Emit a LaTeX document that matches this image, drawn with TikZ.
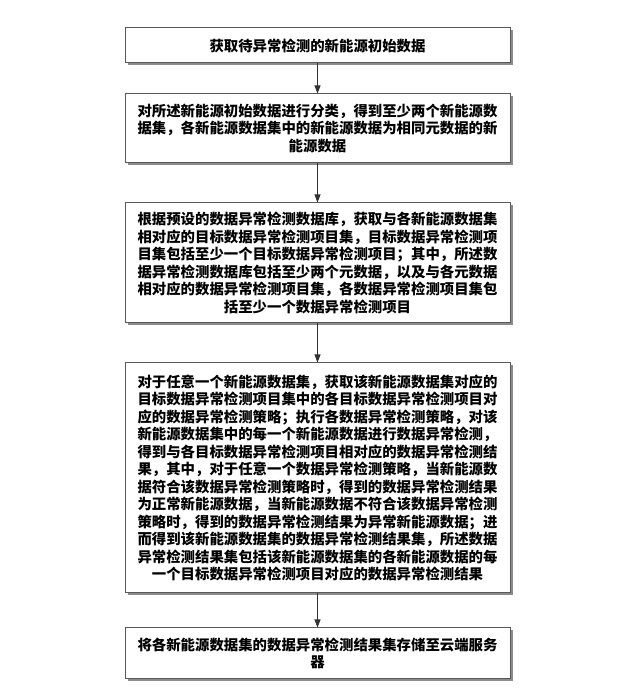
\documentclass[tikz,border=0pt]{standalone}
\usepackage{fontspec}
\newfontfamily\cjk{Noto Sans CJK SC}
\usetikzlibrary{arrows.meta,shadows}
\begin{document}
\begin{tikzpicture}[x=1pt,y=1pt,
  stepbox/.style={draw=black!65, line width=1pt, fill=white,
    drop shadow={shadow xshift=2.5pt, shadow yshift=-2.5pt, fill=black!45, opacity=1},
    minimum width=385pt, inner sep=0pt, align=center,
    font=\cjk\bfseries\fontsize{14.4}{17.5}\selectfont},
  flow/.style={draw=black!80, line width=1pt, -{Triangle[length=8pt,width=6pt]}}]
\useasboundingbox (0,0) rectangle (641,692);
\fill[white] (0,0) rectangle (641,692);
\node[stepbox, minimum height=35pt] (b1) at (317.5,{692-45.5}) {获取待异常检测的新能源初始数据};
\node[stepbox, minimum height=69pt] (b2) at (317.5,{692-128.5}) {对所述新能源初始数据进行分类，得到至少两个新能源数\\据集，各新能源数据集中的新能源数据为相同元数据的新\\能源数据};
\node[stepbox, minimum height=120pt] (b3) at (317.5,{692-263}) {根据预设的数据异常检测数据库，获取与各新能源数据集\\相对应的目标数据异常检测项目集，目标数据异常检测项\\目集包括至少一个目标数据异常检测项目；其中，所述数\\据异常检测数据库包括至少两个元数据，以及与各元数据\\相对应的数据异常检测项目集，各数据异常检测项目集包\\括至少一个数据异常检测项目};
\node[stepbox, minimum height=230pt] (b4) at (317.5,{692-478}) {对于任意一个新能源数据集，获取该新能源数据集对应的\\目标数据异常检测项目集中的各目标数据异常检测项目对\\应的数据异常检测策略；执行各数据异常检测策略，对该\\新能源数据集中的每一个新能源数据进行数据异常检测，\\得到与各目标数据异常检测项目相对应的数据异常检测结\\果，其中，对于任意一个数据异常检测策略，当新能源数\\据符合该数据异常检测策略时，得到的数据异常检测结果\\为正常新能源数据，当新能源数据不符合该数据异常检测\\策略时，得到的数据异常检测结果为异常新能源数据；进\\而得到该新能源数据集的数据异常检测结果集，所述数据\\异常检测结果集包括该新能源数据集的各新能源数据的每\\一个目标数据异常检测项目对应的数据异常检测结果};
\node[stepbox, minimum height=51pt] (b5) at (317.5,{692-653.5}) {将各新能源数据集的数据异常检测结果集存储至云端服务\\器};
\draw[flow] (b1.south) -- (b2.north);
\draw[flow] (b2.south) -- (b3.north);
\draw[flow] (b3.south) -- (b4.north);
\draw[flow] (b4.south) -- (b5.north);
\end{tikzpicture}
\end{document}
